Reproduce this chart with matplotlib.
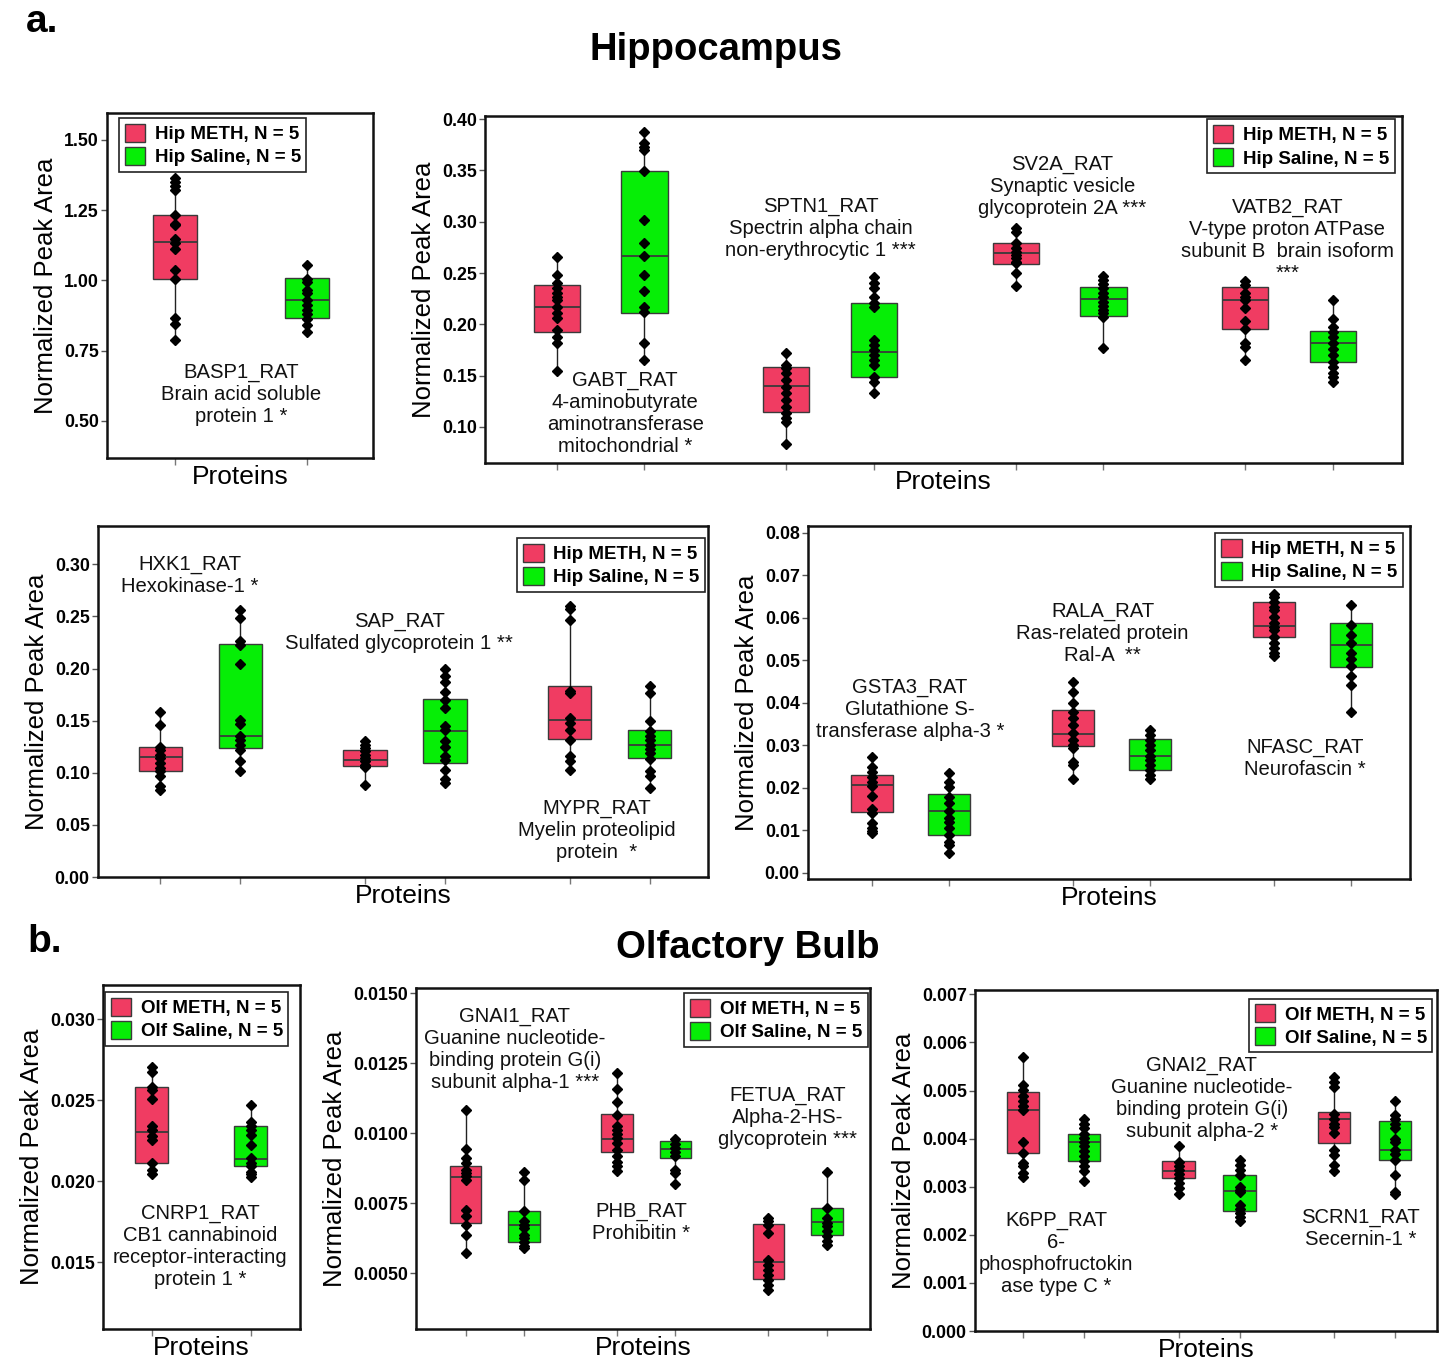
import matplotlib
matplotlib.use("Agg")
import matplotlib.pyplot as plt
from matplotlib.patches import Patch
from matplotlib.ticker import FormatStrFormatter

plt.rcParams['font.family'] = ['Liberation Sans', 'DejaVu Sans']

# ---------------- data (box = [q1, median, q3, whisker_low, whisker_high]) ----------------
# Hippocampus panel 1
basp1_meth_pts = [1.364, 1.349, 1.335, 1.323, 1.233, 1.196, 1.200, 1.146, 1.132, 1.113, 1.037, 1.004, 0.867, 0.846, 0.789]
basp1_meth_box = [1.004, 1.138, 1.233, 0.789, 1.364]
basp1_sal_pts = [1.055, 1.004, 0.994, 0.965, 0.956, 0.932, 0.914, 0.896, 0.879, 0.861, 0.843, 0.815]
basp1_sal_box = [0.867, 0.929, 1.007, 0.815, 1.055]

# Hippocampus panel 2
gabt_meth_pts = [0.2653, 0.2480, 0.2400, 0.2351, 0.2302, 0.2269, 0.2237, 0.2172, 0.2107, 0.2059, 0.1945, 0.1880, 0.1815, 0.1549]
gabt_meth_box = [0.1929, 0.2172, 0.2383, 0.1549, 0.2653]
gabt_sal_pts = [0.3870, 0.3763, 0.3730, 0.3698, 0.3493, 0.3016, 0.2789, 0.2666, 0.2484, 0.2325, 0.2172, 0.2123, 0.1815, 0.1653]
gabt_sal_box = [0.2113, 0.2666, 0.3493, 0.1653, 0.3870]
sptn1_meth_pts = [0.1724, 0.1604, 0.1571, 0.1523, 0.1458, 0.1393, 0.1328, 0.1263, 0.1198, 0.1133, 0.1085, 0.1052, 0.0831]
sptn1_meth_box = [0.1149, 0.1402, 0.1587, 0.0831, 0.1724]
sptn1_sal_pts = [0.2464, 0.2406, 0.2351, 0.2269, 0.2205, 0.2172, 0.1847, 0.1799, 0.1750, 0.1701, 0.1653, 0.1604, 0.1490, 0.1441, 0.1334]
sptn1_sal_box = [0.1490, 0.1733, 0.2211, 0.1334, 0.2464]
sv2a_meth_pts = [0.2935, 0.2902, 0.2789, 0.2740, 0.2708, 0.2675, 0.2643, 0.2610, 0.2593, 0.2497, 0.2373]
sv2a_meth_box = [0.2588, 0.2692, 0.2789, 0.2373, 0.2935]
sv2a_sal_pts = [0.2471, 0.2432, 0.2393, 0.2351, 0.2308, 0.2269, 0.2220, 0.2179, 0.2140, 0.2107, 0.2068, 0.1766]
sv2a_sal_box = [0.2081, 0.2244, 0.2360, 0.1766, 0.2471]
vatb2_meth_pts = [0.2422, 0.2383, 0.2302, 0.2263, 0.2237, 0.2156, 0.2036, 0.1951, 0.1815, 0.1776, 0.1653]
vatb2_meth_box = [0.1951, 0.2237, 0.2367, 0.1653, 0.2422]
vatb2_sal_pts = [0.2237, 0.2049, 0.1977, 0.1929, 0.1873, 0.1815, 0.1757, 0.1701, 0.1636, 0.1587, 0.1523, 0.1484, 0.1441]
vatb2_sal_box = [0.1636, 0.1815, 0.1938, 0.1441, 0.2237]

# Hippocampus panel 3
hxk1_meth_pts = [0.1580, 0.1462, 0.1248, 0.1223, 0.1175, 0.1143, 0.1095, 0.1047, 0.1015, 0.0967, 0.0871, 0.0830]
hxk1_meth_box = [0.1015, 0.1149, 0.1248, 0.0830, 0.1580]
hxk1_sal_pts = [0.2563, 0.2484, 0.2260, 0.2228, 0.2046, 0.1503, 0.1469, 0.1353, 0.1312, 0.1271, 0.1223, 0.1111, 0.1015]
hxk1_sal_box = [0.1239, 0.1357, 0.2238, 0.1015, 0.2563]
sap_meth_pts = [0.1302, 0.1271, 0.1239, 0.1206, 0.1175, 0.1143, 0.1111, 0.1079, 0.1057, 0.0878]
sap_meth_box = [0.1063, 0.1127, 0.1223, 0.0878, 0.1302]
sap_sal_pts = [0.1995, 0.1925, 0.1867, 0.1771, 0.1701, 0.1622, 0.1452, 0.1408, 0.1302, 0.1248, 0.1165, 0.1127, 0.1031, 0.0942, 0.0904]
sap_sal_box = [0.1089, 0.1398, 0.1708, 0.0904, 0.1995]
mypr_meth_pts = [0.2601, 0.2570, 0.2461, 0.1781, 0.1766, 0.1526, 0.1478, 0.1414, 0.1318, 0.1159, 0.1111, 0.1031]
mypr_meth_box = [0.1325, 0.1503, 0.1835, 0.1031, 0.2601]
mypr_sal_pts = [0.1829, 0.1766, 0.1494, 0.1398, 0.1353, 0.1312, 0.1271, 0.1229, 0.1191, 0.1134, 0.1015, 0.0967, 0.0856]
mypr_sal_box = [0.1143, 0.1271, 0.1414, 0.0856, 0.1829]

# Hippocampus panel 4
gsta3_meth_pts = [0.0273, 0.0249, 0.0238, 0.0226, 0.0214, 0.0205, 0.0180, 0.0150, 0.0140, 0.0116, 0.0104, 0.0099, 0.0093]
gsta3_meth_box = [0.0142, 0.0206, 0.0231, 0.0093, 0.0273]
gsta3_sal_pts = [0.0234, 0.0214, 0.0202, 0.0179, 0.0163, 0.0144, 0.0128, 0.0120, 0.0104, 0.0089, 0.0073, 0.0065, 0.0047]
gsta3_sal_box = [0.0089, 0.0144, 0.0185, 0.0047, 0.0234]
rala_meth_pts = [0.0449, 0.0426, 0.0400, 0.0379, 0.0363, 0.0347, 0.0328, 0.0312, 0.0300, 0.0293, 0.0261, 0.0253, 0.0220]
rala_meth_box = [0.0298, 0.0326, 0.0383, 0.0220, 0.0449]
rala_sal_pts = [0.0336, 0.0324, 0.0312, 0.0300, 0.0289, 0.0275, 0.0265, 0.0253, 0.0242, 0.0230, 0.0220]
rala_sal_box = [0.0242, 0.0275, 0.0314, 0.0220, 0.0336]
nfasc_meth_pts = [0.0657, 0.0648, 0.0638, 0.0626, 0.0618, 0.0602, 0.0587, 0.0579, 0.0571, 0.0555, 0.0540, 0.0528, 0.0518, 0.0511]
nfasc_meth_box = [0.0554, 0.0580, 0.0637, 0.0511, 0.0657]
nfasc_sal_pts = [0.0630, 0.0583, 0.0559, 0.0540, 0.0518, 0.0504, 0.0486, 0.0464, 0.0442, 0.0377]
nfasc_sal_box = [0.0483, 0.0535, 0.0587, 0.0377, 0.0630]

# Olfactory bulb panel 5
cnrp1_meth_pts = [0.02708, 0.02677, 0.02585, 0.02564, 0.02507, 0.02342, 0.02318, 0.02283, 0.02256, 0.02116, 0.02071, 0.02047]
cnrp1_meth_box = [0.02112, 0.02303, 0.02581, 0.02047, 0.02708]
cnrp1_sal_pts = [0.02472, 0.02369, 0.02342, 0.02318, 0.02287, 0.02225, 0.02143, 0.02116, 0.02092, 0.02061, 0.02047, 0.02026]
cnrp1_sal_box = [0.02096, 0.02137, 0.02342, 0.02026, 0.02472]

# Olfactory bulb panel 6
gnai1_meth_pts = [0.010833, 0.009440, 0.009107, 0.008929, 0.008690, 0.008571, 0.008452, 0.008333, 0.007262, 0.007024, 0.006726, 0.006369, 0.005714]
gnai1_meth_box = [0.006786, 0.008429, 0.008833, 0.005714, 0.010833]
gnai1_sal_pts = [0.008595, 0.008310, 0.007202, 0.006845, 0.006726, 0.006607, 0.006369, 0.006250, 0.006095, 0.005976, 0.005893]
gnai1_sal_box = [0.006095, 0.006726, 0.007202, 0.005893, 0.008595]
phb_meth_pts = [0.012143, 0.011571, 0.011095, 0.010655, 0.010262, 0.010119, 0.009976, 0.009821, 0.009643, 0.009405, 0.009167, 0.008952, 0.008810, 0.008631]
phb_meth_box = [0.009310, 0.009786, 0.010690, 0.008631, 0.012143]
phb_sal_pts = [0.009786, 0.009619, 0.009464, 0.009310, 0.009167, 0.008690, 0.008571, 0.008190]
phb_sal_box = [0.009107, 0.009429, 0.009702, 0.008190, 0.009786]
fetua_meth_pts = [0.006964, 0.006845, 0.006726, 0.006429, 0.005476, 0.005298, 0.005119, 0.004940, 0.004762, 0.004583, 0.004381]
fetua_meth_box = [0.004786, 0.005381, 0.006750, 0.004381, 0.006964]
fetua_sal_pts = [0.008595, 0.007321, 0.006964, 0.006786, 0.006667, 0.006488, 0.006310, 0.006131, 0.006012]
fetua_sal_box = [0.006369, 0.006810, 0.007321, 0.006012, 0.008595]

# Olfactory bulb panel 7
k6pp_meth_pts = [0.005694, 0.005125, 0.005021, 0.004896, 0.004778, 0.004674, 0.004590, 0.003924, 0.003701, 0.003493, 0.003424, 0.003285, 0.003201]
k6pp_meth_box = [0.003701, 0.004590, 0.004972, 0.003201, 0.005694]
k6pp_sal_pts = [0.004410, 0.004313, 0.004222, 0.004097, 0.004014, 0.003931, 0.003840, 0.003736, 0.003632, 0.003528, 0.003424, 0.003319, 0.003111]
k6pp_sal_box = [0.003542, 0.003931, 0.004097, 0.003111, 0.004410]
gnai2_meth_pts = [0.003840, 0.003507, 0.003424, 0.003354, 0.003271, 0.003181, 0.003076, 0.002972, 0.002854]
gnai2_meth_box = [0.003181, 0.003319, 0.003528, 0.002854, 0.003840]
gnai2_sal_pts = [0.003563, 0.003458, 0.003354, 0.003250, 0.002993, 0.002938, 0.002882, 0.002625, 0.002535, 0.002451, 0.002368, 0.002278]
gnai2_sal_box = [0.002486, 0.002903, 0.003236, 0.002278, 0.003563]
scrn1_meth_pts = [0.005285, 0.005174, 0.005076, 0.004521, 0.004410, 0.004313, 0.004243, 0.004118, 0.003771, 0.003667, 0.003458, 0.003319]
scrn1_meth_box = [0.003910, 0.004410, 0.004549, 0.003319, 0.005285]
scrn1_sal_pts = [0.004792, 0.004500, 0.004410, 0.004313, 0.004222, 0.003993, 0.003924, 0.003771, 0.003681, 0.003563, 0.003250, 0.002882, 0.002854]
scrn1_sal_box = [0.003563, 0.003771, 0.004375, 0.002854, 0.004792]

# protein labels
basp1_label = "BASP1_RAT\nBrain acid soluble\nprotein 1 *"
gabt_label = "GABT_RAT\n4-aminobutyrate\naminotransferase\nmitochondrial *"
sptn1_label = "SPTN1_RAT\nSpectrin alpha chain\nnon-erythrocytic 1 ***"
sv2a_label = "SV2A_RAT\nSynaptic vesicle\nglycoprotein 2A ***"
vatb2_label = "VATB2_RAT\nV-type proton ATPase\nsubunit B  brain isoform\n***"
hxk1_label = "HXK1_RAT\nHexokinase-1 *"
sap_label = "SAP_RAT\nSulfated glycoprotein 1 **"
mypr_label = "MYPR_RAT\nMyelin proteolipid\nprotein  *"
gsta3_label = "GSTA3_RAT\nGlutathione S-\ntransferase alpha-3 *"
rala_label = "RALA_RAT\nRas-related protein\nRal-A  **"
nfasc_label = "NFASC_RAT\nNeurofascin *"
cnrp1_label = "CNRP1_RAT\nCB1 cannabinoid\nreceptor-interacting\nprotein 1 *"
gnai1_label = "GNAI1_RAT\nGuanine nucleotide-\nbinding protein G(i)\nsubunit alpha-1 ***"
phb_label = "PHB_RAT\nProhibitin *"
fetua_label = "FETUA_RAT\nAlpha-2-HS-\nglycoprotein ***"
k6pp_label = "K6PP_RAT\n6-\nphosphofructokin\nase type C *"
gnai2_label = "GNAI2_RAT\nGuanine nucleotide-\nbinding protein G(i)\nsubunit alpha-2 *"
scrn1_label = "SCRN1_RAT\nSecernin-1 *"

hip_legend = ["Hip METH, N = 5", "Hip Saline, N = 5"]
olf_legend = ["Olf METH, N = 5", "Olf Saline, N = 5"]

# ---------------- styling ----------------
RED = '#F03C62'
GREEN = '#06EE06'
EDGE = '#3a3a3a'

W, H = 1443, 1362
fig = plt.figure(figsize=(W / 100, H / 100), dpi=100)


def px_rect(x0, y0, x1, y1):
    return [x0 / W, 1 - y1 / H, (x1 - x0) / W, (y1 - y0) / H]


def panel(rect, proteins, ylim, yticks, fmt, gs, bw, xpad, legend_labels,
          leg_loc, leg_anchor):
    ax = fig.add_axes(px_rect(*rect))
    for i, (mpts, mbox, spts, sbox, label, ldx, ly) in enumerate(proteins):
        xm = i * gs
        xs = xm + 1
        for x, box, pts, col in ((xm, mbox, mpts, RED), (xs, sbox, spts, GREEN)):
            st = [dict(q1=box[0], med=box[1], q3=box[2], whislo=box[3], whishi=box[4])]
            ax.bxp(st, positions=[x], widths=bw, patch_artist=True, showfliers=False,
                   showcaps=False,
                   boxprops=dict(facecolor=col, edgecolor=EDGE, linewidth=1.0),
                   medianprops=dict(color=EDGE, linewidth=1.3),
                   whiskerprops=dict(color='#222222', linewidth=1.0),
                   manage_ticks=False)
            ax.plot([x] * len(pts), pts, linestyle='none', marker='D', ms=5.6,
                    color='black', zorder=5)
        ax.text(xm + ldx, ly, label, ha='center', va='center', fontsize=14.6,
                linespacing=1.2, color='#111111', zorder=6)
    n = len(proteins)
    ax.set_xlim(-xpad[0], (n - 1) * gs + 1 + xpad[1])
    xt = []
    for i in range(n):
        xt += [i * gs, i * gs + 1]
    ax.set_xticks(xt)
    ax.set_xticklabels([])
    ax.set_ylim(*ylim)
    ax.set_yticks(yticks)
    ax.yaxis.set_major_formatter(FormatStrFormatter(fmt))
    ax.tick_params(axis='y', labelsize=12.8, length=4, width=1.0, color='#555555', pad=2)
    ax.tick_params(axis='x', length=5, width=1.0, color='#777777', pad=0)
    for lab in ax.get_yticklabels():
        lab.set_fontweight('bold')
    for sp in ax.spines.values():
        sp.set_linewidth(1.8)
        sp.set_color('#111111')
    ax.set_ylabel('Normalized Peak Area', fontsize=18.5, labelpad=4)
    ax.set_xlabel('Proteins', fontsize=19, labelpad=0)
    handles = [Patch(facecolor=RED, edgecolor=EDGE, linewidth=1.0),
               Patch(facecolor=GREEN, edgecolor=EDGE, linewidth=1.0)]
    leg = ax.legend(handles, legend_labels, loc=leg_loc, bbox_to_anchor=leg_anchor,
                    fancybox=False, framealpha=1, edgecolor='#222222',
                    prop=dict(weight='bold', size=13.5), handlelength=1.1,
                    handleheight=1.1, handletextpad=0.5, borderpad=0.3,
                    labelspacing=0.2, borderaxespad=0)
    leg.get_frame().set_linewidth(1.2)
    return ax


# Panel 1
panel((107, 113, 373, 458),
      [(basp1_meth_pts, basp1_meth_box, basp1_sal_pts, basp1_sal_box, basp1_label, 0.5, 0.593)],
      (0.368, 1.596), [0.50, 0.75, 1.00, 1.25, 1.50], '%.2f', 1.0, 0.336, (0.515, 0.5),
      hip_legend, 'upper left', (0.045, 0.985))

# Panel 2
panel((485, 116, 1402, 463),
      [(gabt_meth_pts, gabt_meth_box, gabt_sal_pts, gabt_sal_box, gabt_label, 0.78, 0.1136),
       (sptn1_meth_pts, sptn1_meth_box, sptn1_sal_pts, sptn1_sal_box, sptn1_label, 0.39, 0.2938),
       (sv2a_meth_pts, sv2a_meth_box, sv2a_sal_pts, sv2a_sal_box, sv2a_label, 0.53, 0.3347),
       (vatb2_meth_pts, vatb2_meth_box, vatb2_sal_pts, vatb2_sal_box, vatb2_label, 0.48, 0.2817)],
      (0.0649, 0.403), [0.10, 0.15, 0.20, 0.25, 0.30, 0.35, 0.40], '%.2f', 2.62, 0.53, (0.82, 0.79),
      hip_legend, 'upper right', (0.992, 0.99))

# Panel 3
panel((98, 526, 708, 877),
      [(hxk1_meth_pts, hxk1_meth_box, hxk1_sal_pts, hxk1_sal_box, hxk1_label, 0.37, 0.2889),
       (sap_meth_pts, sap_meth_box, sap_sal_pts, sap_sal_box, sap_label, 0.43, 0.2348),
       (mypr_meth_pts, mypr_meth_box, mypr_sal_pts, mypr_sal_box, mypr_label, 0.335, 0.0447)],
      (0.0, 0.3367), [0.00, 0.05, 0.10, 0.15, 0.20, 0.25, 0.30], '%.2f', 2.56, 0.54, (0.78, 0.73),
      hip_legend, 'upper right', (0.995, 0.965))

# Panel 4
panel((808, 526, 1410, 879),
      [(gsta3_meth_pts, gsta3_meth_box, gsta3_sal_pts, gsta3_sal_box, gsta3_label, 0.49, 0.0383),
       (rala_meth_pts, rala_meth_box, rala_sal_pts, rala_sal_box, rala_label, 0.386, 0.0562),
       (nfasc_meth_pts, nfasc_meth_box, nfasc_sal_pts, nfasc_sal_box, nfasc_label, 0.41, 0.0268)],
      (-0.0015, 0.0816), [0.00, 0.01, 0.02, 0.03, 0.04, 0.05, 0.06, 0.07, 0.08], '%.2f', 2.61, 0.55,
      (0.835, 0.77), hip_legend, 'upper right', (0.988, 0.98))

# Panel 5
panel((103, 985, 300, 1329),
      [(cnrp1_meth_pts, cnrp1_meth_box, cnrp1_sal_pts, cnrp1_sal_box, cnrp1_label, 0.49, 0.01597)],
      (0.01089, 0.03212), [0.015, 0.020, 0.025, 0.030], '%.3f', 1.0, 0.34, (0.49, 0.5),
      olf_legend, 'upper left', (0.01, 0.98))

# Panel 6
panel((416, 988, 870, 1329),
      [(gnai1_meth_pts, gnai1_meth_box, gnai1_sal_pts, gnai1_sal_box, gnai1_label, 0.84, 0.012975),
       (phb_meth_pts, phb_meth_box, phb_sal_pts, phb_sal_box, phb_label, 0.42, 0.006814),
       (fetua_meth_pts, fetua_meth_box, fetua_sal_pts, fetua_sal_box, fetua_label, 0.33, 0.010546)],
      (0.0030, 0.01518), [0.0050, 0.0075, 0.0100, 0.0125, 0.0150], '%.4f', 2.59, 0.54, (0.85, 0.74),
      olf_legend, 'upper right', (0.995, 0.985))

# Panel 7
panel((975, 990, 1437, 1331),
      [(k6pp_meth_pts, k6pp_meth_box, k6pp_sal_pts, k6pp_sal_box, k6pp_label, 0.54, 0.001609),
       (gnai2_meth_pts, gnai2_meth_box, gnai2_sal_pts, gnai2_sal_box, gnai2_label, 0.38, 0.004833),
       (scrn1_meth_pts, scrn1_meth_box, scrn1_sal_pts, scrn1_sal_box, scrn1_label, 0.44, 0.002125)],
      (0.0, 0.00709), [0.000, 0.001, 0.002, 0.003, 0.004, 0.005, 0.006, 0.007], '%.3f', 2.55, 0.53,
      (0.79, 0.69), olf_legend, 'upper right', (0.99, 0.975))

# Titles
fig.text(42 / W, 1 - 22 / H, 'a.', fontsize=28, fontweight='bold', ha='center', va='center')
fig.text(716 / W, 1 - 50 / H, 'Hippocampus', fontsize=27.5, fontweight='bold', ha='center', va='center')
fig.text(45 / W, 1 - 942 / H, 'b.', fontsize=28, fontweight='bold', ha='center', va='center')
fig.text(748 / W, 1 - 948 / H, 'Olfactory Bulb', fontsize=27.5, fontweight='bold', ha='center', va='center')

fig.savefig('out.png', dpi=100)
